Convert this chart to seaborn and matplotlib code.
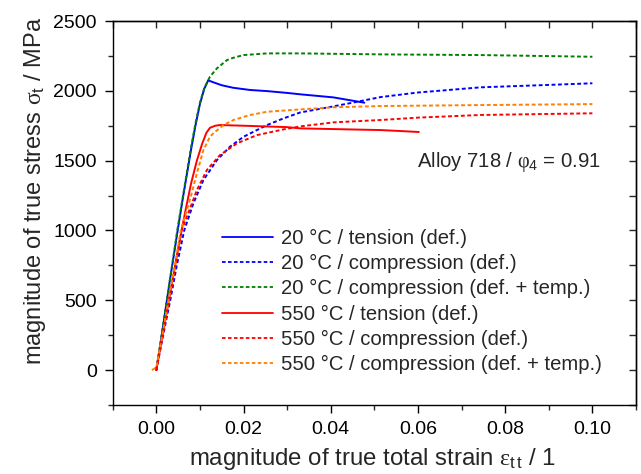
import matplotlib
matplotlib.use("Agg")
import matplotlib.pyplot as plt
import seaborn as sns
import pandas as pd
from matplotlib.ticker import MultipleLocator, FormatStrFormatter

# ---- data ----
t20_x = [0, 0.001, 0.002, 0.003, 0.004, 0.0049, 0.006, 0.007, 0.008, 0.009, 0.010, 0.011,
         0.0119, 0.013, 0.015, 0.0176, 0.0215, 0.0254, 0.030, 0.033, 0.0406, 0.0477]
t20_y = [0, 200, 410, 620, 820, 1000, 1215, 1400, 1585, 1755, 1905, 2015,
         2075, 2062, 2040, 2022, 2006, 1998, 1985, 1975, 1953, 1915]

c20_x = [0, 0.0015, 0.0032, 0.0047, 0.0064, 0.0085, 0.0108, 0.0139, 0.0169, 0.020, 0.0254,
         0.0292, 0.033, 0.040, 0.045, 0.0514, 0.060, 0.0744, 0.0897, 0.100]
c20_y = [0, 240, 500, 750, 1000, 1194, 1361, 1504, 1600, 1671, 1755,
         1803, 1845, 1885, 1915, 1955, 1988, 2025, 2042, 2054]

ct20_x = [0, 0.001, 0.002, 0.003, 0.004, 0.0048, 0.006, 0.007, 0.008, 0.009, 0.010, 0.011,
          0.0123, 0.0139, 0.0162, 0.0176, 0.020, 0.0254, 0.033, 0.0514, 0.0744, 0.100]
ct20_y = [0, 205, 415, 625, 830, 1000, 1225, 1415, 1600, 1770, 1915, 2020,
          2101, 2161, 2220, 2236, 2256, 2268, 2268, 2261, 2256, 2244]

t550_x = [0, 0.0015, 0.003, 0.0045, 0.0058, 0.0068, 0.008, 0.0093, 0.0105, 0.0115, 0.0123,
          0.0135, 0.0146, 0.020, 0.030, 0.033, 0.0514, 0.056, 0.0602]
t550_y = [0, 260, 520, 780, 1000, 1160, 1340, 1500, 1620, 1700, 1735,
          1750, 1755, 1750, 1740, 1731, 1719, 1712, 1705]

c550_x = [0, 0.0015, 0.003, 0.0045, 0.0058, 0.0073, 0.0093, 0.0116, 0.0146, 0.0185, 0.0231,
          0.0292, 0.033, 0.0406, 0.0514, 0.060, 0.0744, 0.100]
c550_y = [0, 255, 510, 770, 1000, 1122, 1289, 1433, 1540, 1624, 1683,
          1724, 1745, 1774, 1791, 1808, 1827, 1839]

ct550_x = [-0.001, 0.0, 0.0015, 0.003, 0.0045, 0.0056, 0.0077, 0.0093, 0.0108, 0.0123, 0.0131,
           0.0154, 0.0177, 0.0215, 0.0254, 0.033, 0.0406, 0.0514, 0.0744, 0.100]
ct550_y = [0, 20, 275, 535, 790, 1000, 1218, 1409, 1576, 1671, 1696,
           1755, 1791, 1827, 1850, 1867, 1882, 1891, 1898, 1905]

labels = ["20 °C / tension (def.)",
          "20 °C / compression (def.)",
          "20 °C / compression (def. + temp.)",
          "550 °C / tension (def.)",
          "550 °C / compression (def.)",
          "550 °C / compression (def. + temp.)"]

x_ticks = [0.0, 0.02, 0.04, 0.06, 0.08, 0.10]
y_ticks = [0, 500, 1000, 1500, 2000, 2500]

series = [(t20_x, t20_y), (c20_x, c20_y), (ct20_x, ct20_y),
          (t550_x, t550_y), (c550_x, c550_y), (ct550_x, ct550_y)]
colors = ["#0000FF", "#0000FF", "#008000", "#FF0000", "#FF0000", "#FF8000"]
solid = [True, False, False, True, False, False]

# ---- style ----
sns.set_theme(style="ticks")
plt.rcParams["font.family"] = ["Liberation Sans", "DejaVu Sans"]
plt.rcParams["mathtext.fontset"] = "custom"
plt.rcParams["mathtext.rm"] = "Liberation Sans"
plt.rcParams["mathtext.it"] = "Liberation Serif"
plt.rcParams["mathtext.bf"] = "Liberation Sans:bold"

fig = plt.figure(figsize=(6.41, 4.74), dpi=100)
ax = fig.add_axes([112.7 / 641, 1 - 405 / 474, (636 - 112.7) / 641, (405 - 21) / 474])

for (xs, ys), lab, col, sol in zip(series, labels, colors, solid):
    df = pd.DataFrame({"x": xs, "y": ys})
    kw = {} if sol else {"dashes": (2.0, 1.3)}
    sns.lineplot(data=df, x="x", y="y", ax=ax, color=col, lw=1.4,
                 sort=False, estimator=None, label=lab, **kw)

ax.set_xlim(-0.01, 0.11)
ax.set_ylim(-250, 2500)
ax.set_xticks(x_ticks)
ax.set_yticks(y_ticks)
ax.xaxis.set_minor_locator(MultipleLocator(0.01))
ax.xaxis.set_major_formatter(FormatStrFormatter("%.2f"))
ax.yaxis.set_minor_locator(MultipleLocator(250))

for sp in ax.spines.values():
    sp.set_linewidth(1.0)
    sp.set_color("black")

ax.tick_params(axis="both", which="major", direction="out", length=5.5, width=1.0,
               labelsize=14, colors="black", pad=6)
ax.tick_params(axis="both", which="minor", direction="out", length=3.5, width=1.0)
ax.tick_params(top=False, right=False)

secx = ax.secondary_xaxis("top")
secx.set_xticks(x_ticks)
secx.xaxis.set_minor_locator(MultipleLocator(0.01))
secx.tick_params(which="both", direction="in", length=5, width=1.0, labeltop=False)
secy = ax.secondary_yaxis("right")
secy.set_yticks(y_ticks)
secy.yaxis.set_minor_locator(MultipleLocator(250))
secy.tick_params(which="both", direction="in", length=5, width=1.0, labelright=False)
for s in (secx, secy):
    for sp in s.spines.values():
        sp.set_linewidth(1.0)

ax.set_xlabel(r"magnitude of true total strain $\varepsilon_\mathrm{t\,t}$ / 1", fontsize=17.3)
ax.set_ylabel(r"magnitude of true stress $\sigma_\mathrm{t}$ / MPa", fontsize=17, va="center")
ax.yaxis.set_label_coords(-0.148, 0.557)
ax.xaxis.set_label_coords(0.497, -0.14)
ax.xaxis.label.set_va("center")

ax.text(0.5815, 0.6206, r"Alloy 718 / $\varphi_4$ = 0.91", transform=ax.transAxes,
        fontsize=14.6, ha="left", va="baseline")

leg = ax.legend(loc="upper left", bbox_to_anchor=(0.209, 0.458), frameon=False,
                fontsize=14.6, handlelength=2.5, handletextpad=0.4, labelspacing=0.3,
                borderpad=0, borderaxespad=0)
for lh in leg.get_lines():
    lh.set_linewidth(1.3)

fig.savefig("out.png", dpi=100)
